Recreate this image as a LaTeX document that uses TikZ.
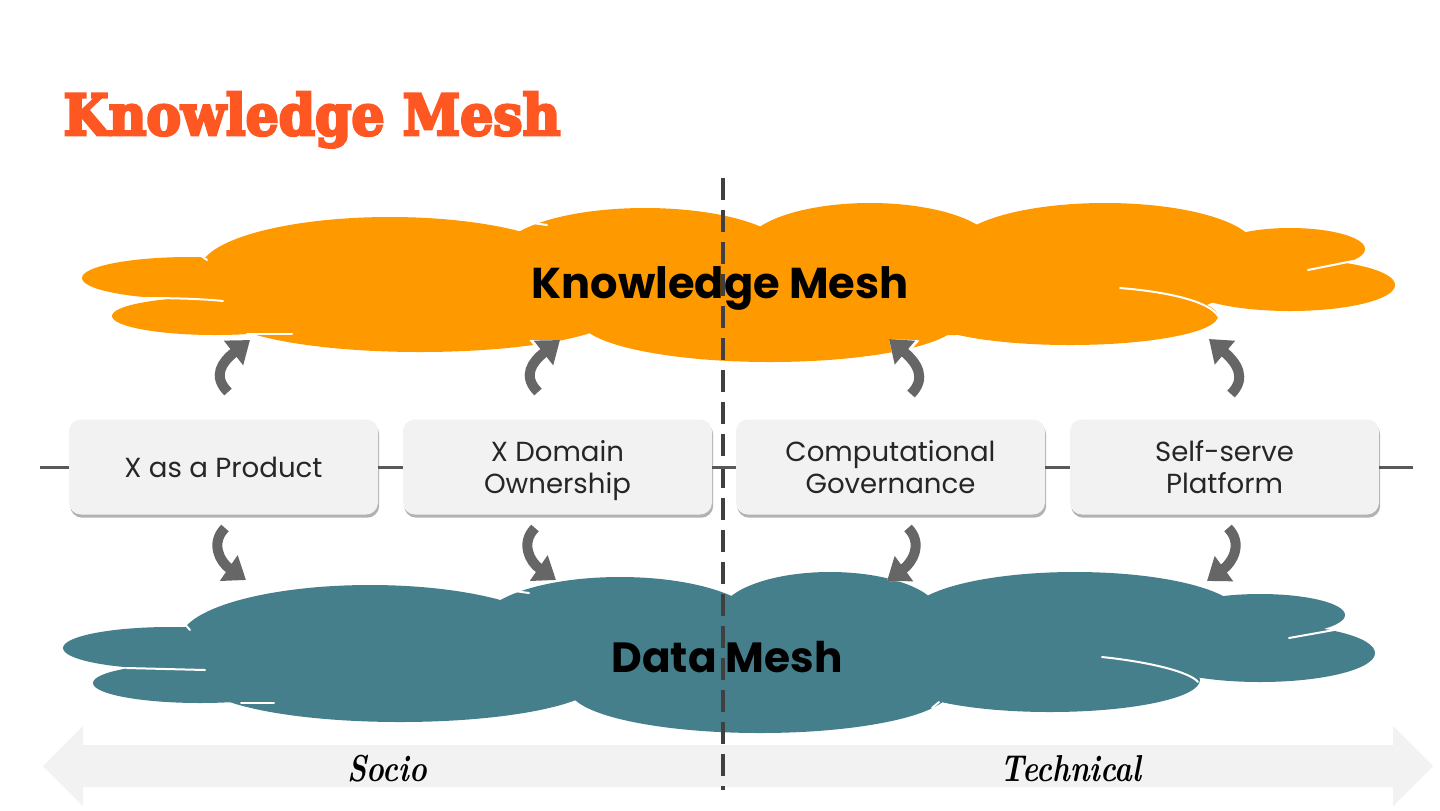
\documentclass[tikz,border=0pt]{standalone}
\usepackage{fontspec}
\usepackage{graphicx}
\newfontfamily\popp{Poppins}
\newfontfamily\titlefont[BoldFeatures={FakeBold=5}]{DejaVu Serif}
\usetikzlibrary{arrows.meta,shadows}
\definecolor{orangeC}{HTML}{FF9900}
\definecolor{tealC}{HTML}{467F8C}
\definecolor{titleC}{HTML}{FF5722}
\definecolor{boxC}{HTML}{F2F2F2}
\definecolor{arrowC}{HTML}{666666}
\definecolor{lineC}{HTML}{595959}
\definecolor{dashC}{HTML}{404040}
\definecolor{bandC}{HTML}{F2F2F2}
\tikzset{
  pillar/.style={fill=boxC, rounded corners=6pt, minimum width=154.5pt, minimum height=47.5pt,
    align=center, inner sep=2pt, text=black!85, text depth=0pt, font=\popp\fontsize{13.8}{16}\selectfont,
    drop shadow={shadow xshift=0.6pt, shadow yshift=-1.6pt, opacity=0.3, fill=black}},
  link/.style={draw=lineC, line width=1.5pt},
  divider/.style={draw=dashC, line width=2pt, dash pattern=on 11pt off 5pt},
  bendarrow/.style={draw=arrowC, line width=5pt, -{Triangle[width=15pt,length=10.5pt]},
    preaction={draw=white, line width=7pt, -{Triangle[width=18pt,length=12pt]}}},
  seam/.style={draw=white, line width=1pt, line cap=round},
  sidelabel/.style={font=\bfseries\itshape\fontsize{15}{18}\selectfont, text=black, anchor=base}
}
\begin{document}
\begin{tikzpicture}[x=0.5pt,y=-0.5pt]
\useasboundingbox (0,0) rectangle (1440,810);
\fill[white] (0,0) rectangle (1440,810);

% title
\node[anchor=base west, inner sep=0pt, text=titleC] (title) at (63,135)
  {\resizebox{248.5pt}{21.5pt}{\titlefont\bfseries Knowledge Mesh}};

% band arrow
\fill[bandC] (43,766) -- (83,726) -- (83,745) -- (1393,745) -- (1393,726) -- (1433,766)
  -- (1393,806) -- (1393,787) -- (83,787) -- (83,806) -- cycle;

% top cloud
\begin{scope}[fill=orangeC]
\fill (190,278) ellipse [x radius=108, y radius=21];
\fill (215,316) ellipse [x radius=103, y radius=19];
\fill (390,270) ellipse [x radius=190, y radius=53];
\fill (420,312) ellipse [x radius=200, y radius=40];
\fill (645,255) ellipse [x radius=145, y radius=47];
\fill (770,320) ellipse [x radius=190, y radius=42];
\fill (870,248) ellipse [x radius=125, y radius=45];
\fill (1105,248) ellipse [x radius=150, y radius=45];
\fill (1290,249) ellipse [x radius=75, y radius=21];
\fill (1290,285) ellipse [x radius=105, y radius=26];
\fill (1070,316) ellipse [x radius=148, y radius=29];
\fill (950,285) ellipse [x radius=280, y radius=50];
\end{scope}
\draw[seam] (145,298) .. controls (175,298) and (205,299) .. (223,301);
\draw[seam] (247,334) -- (292,334);
\draw[seam] (511,220) -- (547,225);
\draw[seam] (200,255) -- (207,260);
\draw[seam] (1120,288) .. controls (1170,292) and (1210,302) .. (1218,316);
\draw[seam] (1308,270) -- (1353,261);
\draw[seam] (1247,223) -- (1249,228);

% bottom cloud
\begin{scope}[fill=tealC]
\fill (170,648) ellipse [x radius=107, y radius=21];
\fill (200,683) ellipse [x radius=107, y radius=20];
\fill (370,640) ellipse [x radius=190, y radius=55];
\fill (400,680) ellipse [x radius=200, y radius=42];
\fill (620,625) ellipse [x radius=140, y radius=48];
\fill (760,690) ellipse [x radius=190, y radius=43];
\fill (830,615) ellipse [x radius=110, y radius=43];
\fill (1075,615) ellipse [x radius=165, y radius=43];
\fill (1260,615) ellipse [x radius=85, y radius=21];
\fill (1260,653) ellipse [x radius=115, y radius=29];
\fill (1050,680) ellipse [x radius=150, y radius=32];
\fill (900,650) ellipse [x radius=250, y radius=50];
\end{scope}
\draw[seam] (127,668) -- (205,670);
\draw[seam] (241,703) -- (274,703);
\draw[seam] (493,588) -- (529,593);
\draw[seam] (183,622) -- (190,630);
\draw[seam] (544,712) -- (564,718);
\draw[seam] (736,585) -- (745,582);
\draw[seam] (948,585) -- (968,580);
\draw[seam] (1289,638) -- (1334,630);
\draw[seam] (1102,657) .. controls (1150,662) and (1190,672) .. (1198,682);
\draw[seam] (932,708) -- (939,702);

% divider
\coordinate (dtop) at (723,178);
\coordinate (dbot) at (723,790);
\draw[divider] (dtop) -- (dbot);

% cloud labels
\node[anchor=base, inner sep=0pt] (km) at (720,298) {\resizebox{188.5pt}{!}{\popp\bfseries Knowledge Mesh}};
\node[anchor=base, inner sep=0pt] (dm) at (727,672) {\resizebox{115.5pt}{!}{\popp\bfseries Data Mesh}};

% pillars
\coordinate (lend) at (40,467);
\coordinate (rend) at (1413,467);
\draw[link] (lend) -- (223.5,467);
\draw[link] (1224.5,467) -- (rend);
\node[pillar] (b1) at (223.5,467) {X as a Product};
\node[pillar] (b2) at (557.5,467) {X Domain\\Ownership};
\node[pillar] (b3) at (890.5,467) {Computational\\Governance};
\node[pillar] (b4) at (1224.5,467) {Self-serve\\Platform};
\draw[link] (b1.east) -- (b2.west);
\draw[link] (b2.east) -- (b3.west);
\draw[link] (b3.east) -- (b4.west);

% curved arrows up
\coordinate (u1s) at (228,392); \coordinate (u1e) at (250,340);
\coordinate (u2s) at (538,392); \coordinate (u2e) at (560,340);
\coordinate (u3s) at (911,394); \coordinate (u3e) at (889,339);
\coordinate (u4s) at (1231,394); \coordinate (u4e) at (1209,339);
\draw[bendarrow] (u1s) .. controls (212,376) and (222,362) .. (u1e);
\draw[bendarrow] (u2s) .. controls (522,376) and (532,362) .. (u2e);
\draw[bendarrow] (u3s) .. controls (927,378) and (917,363) .. (u3e);
\draw[bendarrow] (u4s) .. controls (1247,378) and (1237,363) .. (u4e);

% curved arrows down
\coordinate (d1s) at (225,528); \coordinate (d1e) at (246,580);
\coordinate (d2s) at (535,528); \coordinate (d2e) at (556,580);
\coordinate (d3s) at (908,528); \coordinate (d3e) at (887,581);
\coordinate (d4s) at (1228,528); \coordinate (d4e) at (1207,581);
\draw[bendarrow] (d1s) .. controls (210,543) and (220,562) .. (d1e);
\draw[bendarrow] (d2s) .. controls (520,543) and (530,562) .. (d2e);
\draw[bendarrow] (d3s) .. controls (923,543) and (913,562) .. (d3e);
\draw[bendarrow] (d4s) .. controls (1243,543) and (1233,562) .. (d4e);

% side labels
\node[sidelabel] (socio) at (387,781) {\scalebox{1}[1.25]{Socio}};
\node[sidelabel] (tech) at (1071,781) {\scalebox{1}[1.25]{Technical}};
\end{tikzpicture}
\end{document}
